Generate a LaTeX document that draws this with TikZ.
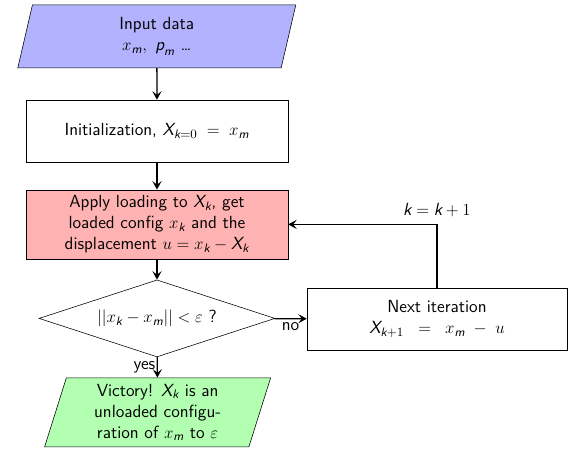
\documentclass[tikz,border=0pt]{standalone}
\usepackage{amsmath}
\usepackage{amssymb}
\usetikzlibrary{shapes.geometric, arrows, arrows.meta}
\newcommand{\sv}[1]{\text{\itshape #1}}
\tikzset{
  io/.style={trapezium, trapezium left angle=70, trapezium right angle=110, trapezium stretches body, draw, align=center, inner sep=1pt},
  process/.style={rectangle, draw, align=center},
  decision/.style={diamond, draw, align=center, inner sep=0pt, shape aspect=3.06},
  flow/.style={-{Stealth[length=6pt, width=6.5pt, inset=2.5pt]}, line width=0.9pt}
}
\begin{document}
\begin{tikzpicture}[font=\sffamily\fontsize{12.5}{15}\selectfont]
            \useasboundingbox (0,0) rectangle (14.375,-11.25);
            % Input
            \node[io, fill=blue!30, minimum width=6.95cm, minimum height=1.575cm] (input) at (3.92,-0.91) {Input data\\ \(x_{\sv{m}},\ \sv{p}_{\sv{m}}\) \dots};
            % Initialization
            \node[process, minimum width=6.55cm, minimum height=1.55cm] (init) at (3.925,-3.275) {Initialization, \(\sv{X}_{\sv{k}=0}\;=\;x_{\sv{m}}\)};
            % Loading
            \node[process, fill=red!30, minimum width=6.55cm, minimum height=1.725cm] (apply) at (3.925,-5.61) {Apply loading to \(\sv{X}_{\sv{k}}\), get\\ loaded config \(x_{\sv{k}}\) and the\\ displacement \(u = x_{\sv{k}} - \sv{X}_{\sv{k}}\)};
            % Test
            \node[decision, minimum width=5.9cm, minimum height=1.925cm] (test) at (3.925,-7.96) {\(||x_{\sv{k}} - x_{\sv{m}}|| < \varepsilon\) ?};
            % Result
            \node[io, fill=green!30, minimum width=5.65cm, minimum height=1.725cm] (victory) at (3.94,-10.31) {Victory! \(\sv{X}_{\sv{k}}\) is an\\ unloaded configu-\\ ration of \(x_{\sv{m}}\) to \(\varepsilon\)};
            % Next iteration
            \node[process, minimum width=6.5cm, minimum height=1.55cm] (next) at (10.925,-7.975) {Next iteration\\ \(\sv{X}_{\sv{k}+1}\;\;=\;\;x_{\sv{m}}\;-\;u\)};
            % Arrows
            \draw[flow] (input) -- (init);
            \draw[flow] (init) -- (apply);
            \draw[flow] (apply) -- (test);
            \draw[flow] (test) -- (victory) node[midway, left, inner sep=1pt] {yes};
            \draw[flow] (test) -- (next) node[midway, below, inner sep=2pt] {no};
            \draw[flow] (next.north) |- (apply.east) node[pos=0.5, above, inner sep=5pt] {\(\sv{k} = \sv{k} + 1\)};
        \end{tikzpicture}
\end{document}
